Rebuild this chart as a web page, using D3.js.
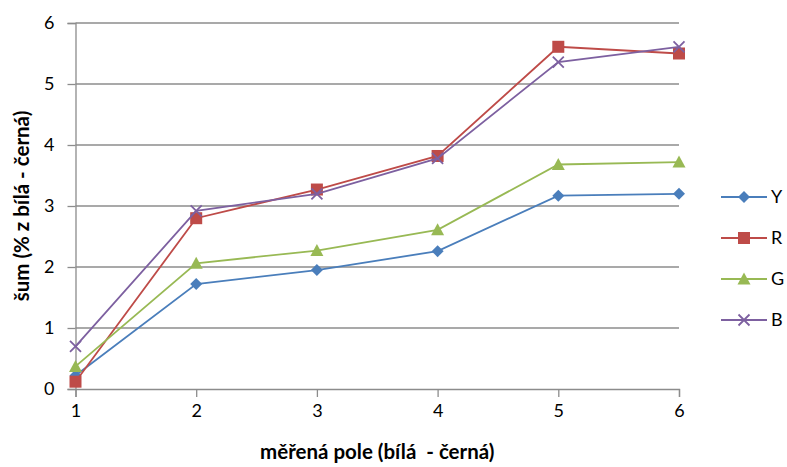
<!DOCTYPE html>
<html>
<head>
<meta charset="utf-8">
<script src="https://cdn.jsdelivr.net/npm/d3@7"></script>
<style>
  body { margin: 0; background: #fff; }
  text { font-family: Lato, "Open Sans", sans-serif; }
</style>
</head>
<body>
<div id="chart"></div>
<script>
// data
const fields = [1, 2, 3, 4, 5, 6];
const seriesNames = ['Y', 'R', 'G', 'B'];
const valuesY = [0.22, 1.72, 1.95, 2.26, 3.17, 3.20];
const valuesR = [0.12, 2.80, 3.27, 3.82, 5.61, 5.50];
const valuesG = [0.37, 2.06, 2.27, 2.61, 3.68, 3.72];
const valuesB = [0.70, 2.92, 3.20, 3.78, 5.36, 5.61];
const yTicks = [0, 1, 2, 3, 4, 5, 6];

const colors = { Y: '#4a7ebb', R: '#be4b48', G: '#98b954', B: '#7d60a0' };
const series = [
  { name: 'Y', values: valuesY, marker: 'diamond' },
  { name: 'R', values: valuesR, marker: 'square' },
  { name: 'G', values: valuesG, marker: 'triangle' },
  { name: 'B', values: valuesB, marker: 'cross' }
];

const width = 787, height = 467;
const margin = { top: 23, left: 75.5, right: 108, bottom: 78 };

const svg = d3.select('#chart').append('svg')
  .attr('width', width)
  .attr('height', height);

const x = d3.scaleLinear().domain([1, 6]).range([margin.left, width - margin.right]);
const y = d3.scaleLinear().domain([0, 6]).range([height - margin.bottom, margin.top]);

// gridlines
svg.append('g')
  .selectAll('line')
  .data(yTicks.filter(d => d > 0))
  .enter().append('line')
  .attr('x1', margin.left).attr('x2', width - margin.right)
  .attr('y1', d => y(d)).attr('y2', d => y(d))
  .attr('stroke', '#8c8c8c').attr('stroke-width', 1.3);

// y axis
const yAxis = svg.append('g')
  .attr('transform', `translate(${margin.left},0)`)
  .call(d3.axisLeft(y).tickValues(yTicks).tickSize(8).tickPadding(13).tickFormat(d3.format('d')));
// x axis
const xAxis = svg.append('g')
  .attr('transform', `translate(0,${y(0)})`)
  .call(d3.axisBottom(x).tickValues(fields).tickSize(8).tickPadding(7).tickFormat(d3.format('d')));

[yAxis, xAxis].forEach(a => {
  a.select('.domain').attr('stroke', '#8c8c8c').attr('stroke-width', 1.3);
  a.selectAll('.tick line').attr('stroke', '#8c8c8c').attr('stroke-width', 1.3);
  a.selectAll('text').attr('font-size', 18).attr('fill', '#000')
    .style('font-family', 'Lato, "Open Sans", sans-serif');
});

const line = d3.line().x((d, i) => x(fields[i])).y(d => y(d));

function drawMarker(g, type, color) {
  if (type === 'diamond') {
    g.append('path').attr('d', 'M0,-6L6,0L0,6L-6,0Z').attr('fill', color);
  } else if (type === 'square') {
    g.append('rect').attr('x', -6).attr('y', -6).attr('width', 12).attr('height', 12).attr('fill', color);
  } else if (type === 'triangle') {
    g.append('path').attr('d', 'M0,-6.5L6.5,5.5L-6.5,5.5Z').attr('fill', color);
  } else {
    g.append('path').attr('d', 'M-5.5,-5.5L5.5,5.5M-5.5,5.5L5.5,-5.5')
      .attr('stroke', color).attr('stroke-width', 1.8).attr('fill', 'none');
  }
}

series.forEach(s => {
  svg.append('path')
    .datum(s.values)
    .attr('d', line)
    .attr('fill', 'none')
    .attr('stroke', colors[s.name])
    .attr('stroke-width', 1.8);
  s.values.forEach((v, i) => {
    const g = svg.append('g').attr('transform', `translate(${x(fields[i])},${y(v)})`);
    drawMarker(g, s.marker, colors[s.name]);
  });
});

// legend
const legend = svg.append('g').attr('transform', 'translate(721,197)');
series.forEach((s, i) => {
  const g = legend.append('g').attr('transform', `translate(0,${i * 41})`);
  g.append('line').attr('x1', 0).attr('x2', 46).attr('stroke', colors[s.name]).attr('stroke-width', 1.8);
  const m = g.append('g').attr('transform', 'translate(23,0)');
  drawMarker(m, s.marker, colors[s.name]);
  g.append('text').attr('x', 50).attr('y', 6).attr('font-size', 18).text(s.name);
});

// axis titles
svg.append('text')
  .attr('x', (x(1) + x(6)) / 2).attr('y', 459)
  .attr('text-anchor', 'middle')
  .style('white-space', 'pre')
  .attr('font-size', 20.5).attr('font-weight', 'bold')
  .text('měřená pole (bílá  - černá)');

svg.append('text')
  .attr('transform', `translate(29,${(y(0) + y(6)) / 2}) rotate(-90)`)
  .attr('text-anchor', 'middle')
  .attr('font-size', 20.5).attr('font-weight', 'bold')
  .text('šum (% z bílá - černá)');
</script>
</body>
</html>
